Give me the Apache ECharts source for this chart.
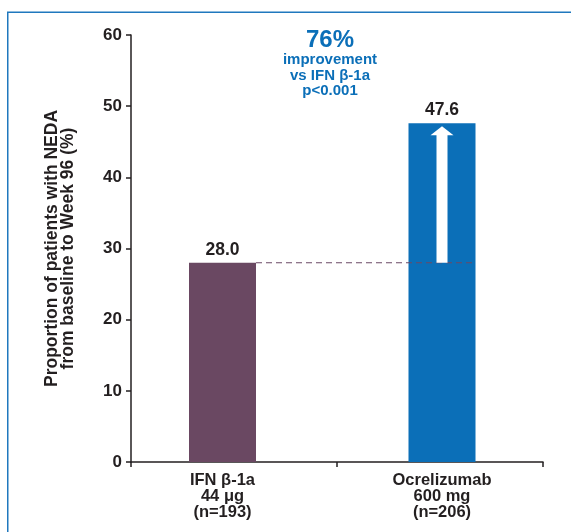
<!DOCTYPE html>
<html>
<head>
<meta charset="utf-8">
<script src="https://cdn.jsdelivr.net/npm/echarts@6/dist/echarts.min.js"></script>
<style>
  html, body { margin: 0; padding: 0; background: #ffffff; }
  #chart { width: 571px; height: 532px; }
</style>
</head>
<body>
<div id="chart"></div>
<script>
// Treatment groups and the share of patients with NEDA (%)
const categories = ['IFN β-1a', 'Ocrelizumab'];
const doses = ['44 μg', '600 mg'];
const sampleSizes = [193, 206];
const nedaValues = [28.0, 47.6];
const yTicks = { min: 0, max: 60, interval: 10 };
const noteLines = ['76%', 'improvement', 'vs IFN β-1a', 'p<0.001'];

const FONT = '"Liberation Sans", Arial, sans-serif';
const INK = '#231f20';
const BLUE = '#0b6fb8';
const PURPLE = '#6a4862';
const barColors = [PURPLE, BLUE];

const chart = echarts.init(document.getElementById('chart'), null, { renderer: 'canvas' });

const axisStyle = { lineStyle: { color: INK, width: 1.5 } };

chart.setOption({
  backgroundColor: '#ffffff',
  animation: false,
  grid: [
    { left: 131, right: 28, top: 35, bottom: 70 },
    { left: 112.75, right: 19.25, top: 35, bottom: 70 }
  ],
  xAxis: [
    {
      gridIndex: 0, type: 'category', data: categories, boundaryGap: true,
      axisLine: axisStyle,
      axisTick: { show: true, length: 5, interval: 0, lineStyle: { color: INK, width: 1.5 } },
      axisLabel: { show: false }
    },
    {
      gridIndex: 1, type: 'category', data: categories,
      axisLine: { show: false }, axisTick: { show: false },
      axisLabel: {
        interval: 0, margin: 10,
        fontFamily: FONT, fontWeight: 'bold', fontSize: 16.5, lineHeight: 16, color: INK,
        formatter: (v, i) => v + '\n' + doses[i] + '\n(n=' + sampleSizes[i] + ')'
      }
    }
  ],
  yAxis: [
    {
      gridIndex: 0, type: 'value', min: yTicks.min, max: yTicks.max, interval: yTicks.interval,
      axisLine: { show: true, lineStyle: { color: INK, width: 1.5 } },
      axisTick: { show: true, length: 5, lineStyle: { color: INK, width: 1.5 } },
      splitLine: { show: false },
      axisLabel: { fontFamily: FONT, fontWeight: 'bold', fontSize: 17, color: INK, margin: 9 },
      name: 'Proportion of patients with NEDA\nfrom baseline to Week 96 (%)',
      nameLocation: 'middle', nameGap: 55,
      nameTextStyle: { fontFamily: FONT, fontWeight: 'bold', fontSize: 17.5, lineHeight: 16, color: INK }
    },
    {
      gridIndex: 1, type: 'value', min: yTicks.min, max: yTicks.max, interval: yTicks.interval,
      show: false
    }
  ],
  series: [
    {
      type: 'bar', xAxisIndex: 1, yAxisIndex: 1, barWidth: 67,
      data: nedaValues.map((v, i) => ({ value: v, itemStyle: { color: barColors[i] } })),
      label: {
        show: true, position: 'top', distance: 4,
        fontFamily: FONT, fontWeight: 'bold', fontSize: 17.5, color: INK,
        formatter: p => p.value.toFixed(1)
      }
    }
  ]
});

// Overlays placed through the bar series' own coordinate system
const finder = { seriesIndex: 0 };
const halfBar = 67 / 2;
const [x0, yBase] = chart.convertToPixel(finder, [0, nedaValues[0]]);
const [x1, yTop] = chart.convertToPixel(finder, [1, nedaValues[1]]);

const tipY = yTop + 3;
const headH = 9, headHalf = 11.5, shaftHalf = 5.5;
const arrowPoints = [
  [x1 - shaftHalf, yBase],
  [x1 - shaftHalf, tipY + headH],
  [x1 - headHalf, tipY + headH],
  [x1, tipY],
  [x1 + headHalf, tipY + headH],
  [x1 + shaftHalf, tipY + headH],
  [x1 + shaftHalf, yBase]
];

const noteX = 330;
chart.setOption({
  graphic: [
    {
      type: 'rect', silent: true, z: 0,
      shape: { x: 7.75, y: 12.25, width: 800, height: 800 },
      style: { fill: 'none', stroke: '#1f78be', lineWidth: 1.5 }
    },
    {
      type: 'line', silent: true, z: 10,
      shape: { x1: x0 + halfBar, y1: yBase, x2: x1 + halfBar, y2: yBase },
      style: { stroke: '#6b4a66', lineWidth: 1.2, lineDash: [6, 4] }
    },
    {
      type: 'polygon', silent: true, z: 11,
      shape: { points: arrowPoints },
      style: { fill: '#ffffff' }
    },
    {
      type: 'text', silent: true, z: 12, x: noteX, y: 40,
      style: {
        text: noteLines[0], fill: BLUE, align: 'center', verticalAlign: 'middle',
        font: 'bold 24px ' + FONT
      }
    },
    {
      type: 'text', silent: true, z: 12, x: noteX, y: 52,
      style: {
        text: noteLines.slice(1).join('\n'), fill: BLUE, align: 'center', verticalAlign: 'top',
        font: 'bold 15px ' + FONT, lineHeight: 15.7
      }
    }
  ]
});
</script>
</body>
</html>
